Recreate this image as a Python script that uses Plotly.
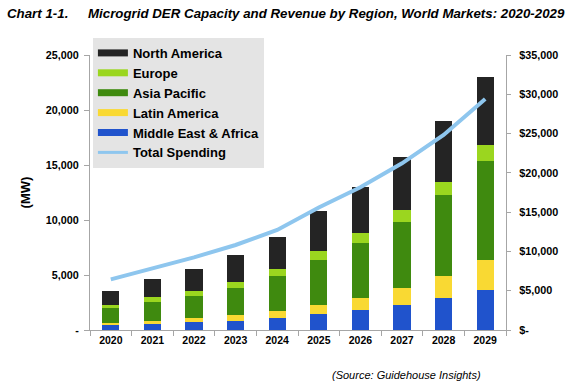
import plotly.graph_objects as go

years = ["2020", "2021", "2022", "2023", "2024", "2025", "2026", "2027", "2028", "2029"]
middle_east_africa = [450, 545, 730, 850, 1090, 1425, 1820, 2300, 2880, 3640]
latin_america = [220, 305, 330, 480, 640, 845, 1120, 1520, 2000, 2690]
asia_pacific = [1360, 1700, 2060, 2520, 3150, 4090, 4970, 6000, 7390, 9070]
europe = [270, 430, 455, 545, 635, 820, 880, 1060, 1180, 1390]
north_america = [1220, 1630, 1940, 2400, 2910, 3610, 4180, 4820, 5520, 6210]
total_spending = [6450, 7850, 9250, 10820, 12730, 15600, 18160, 21210, 24820, 29400]

left_tickvals = [0, 5000, 10000, 15000, 20000, 25000]
left_ticktext = ["-", "5,000", "10,000", "15,000", "20,000", "25,000"]
right_tickvals = [0, 5000, 10000, 15000, 20000, 25000, 30000, 35000]
right_ticktext = ["$-", "$5,000", "$10,000", "$15,000", "$20,000", "$25,000", "$30,000", "$35,000"]

FONT = "Liberation Sans, Arial, sans-serif"
colors = {
    "North America": "#242424",
    "Europe": "#9bd61f",
    "Asia Pacific": "#3f8a0f",
    "Latin America": "#f9d933",
    "Middle East & Africa": "#2053cc",
    "Total Spending": "#8ec6ee",
}

fig = go.Figure()
stack = [
    ("Middle East & Africa", middle_east_africa),
    ("Latin America", latin_america),
    ("Asia Pacific", asia_pacific),
    ("Europe", europe),
    ("North America", north_america),
]
for name, vals in stack:
    fig.add_trace(go.Bar(x=years, y=vals, name=name, marker=dict(color=colors[name], line=dict(width=0)),
                         showlegend=False, yaxis="y"))

fig.add_trace(go.Scatter(x=years, y=total_spending, name="Total Spending", mode="lines",
                         line=dict(color=colors["Total Spending"], width=4), yaxis="y2",
                         showlegend=False))

legend_order = ["North America", "Europe", "Asia Pacific", "Latin America", "Middle East & Africa", "Total Spending"]
for i, name in enumerate(legend_order):
    w = 3 if name == "Total Spending" else 7
    fig.add_trace(go.Scatter(x=[None], y=[None], mode="lines", name=name,
                             line=dict(color=colors[name], width=w), legendrank=i + 1,
                             showlegend=True, hoverinfo="skip"))

fig.update_layout(
    width=574, height=392,
    margin=dict(l=90, r=68, t=55, b=62),
    paper_bgcolor="white", plot_bgcolor="white",
    barmode="stack", bargap=0.59,
    font=dict(family=FONT, color="#000000"),
    xaxis=dict(type="category", showline=True, linecolor="#a6a6a6", linewidth=1,
               ticks="outside", tickson="boundaries", ticklen=5, tickcolor="#a6a6a6",
               tickfont=dict(size=10.5, weight="bold", family=FONT), showgrid=False),
    yaxis=dict(range=[0, 25000], tickvals=left_tickvals, ticktext=left_ticktext,
               showline=True, linecolor="#a6a6a6", linewidth=1, ticks="outside", ticklen=5,
               tickcolor="#a6a6a6", showgrid=False, zeroline=False,
               tickfont=dict(size=10.8, weight="bold", family=FONT), ticklabelstandoff=3,
               title=dict(text="(MW)", font=dict(size=13, weight="bold", family=FONT), standoff=12)),
    yaxis2=dict(range=[0, 35000], tickvals=right_tickvals, ticktext=right_ticktext,
                overlaying="y", side="right", showline=True, linecolor="#a6a6a6", linewidth=1,
                ticks="outside", ticklen=4, tickcolor="#a6a6a6", showgrid=False, zeroline=False,
                tickfont=dict(size=10.8, weight="bold", family=FONT), ticklabelstandoff=6),
    legend=dict(x=0.007, y=1.062, xanchor="left", yanchor="top", bgcolor="#e4e4e4",
                font=dict(size=13, weight="bold", family=FONT), traceorder="normal",
                itemwidth=30, tracegroupgap=0),
    annotations=[
        dict(text="<b><i>Chart 1-1.</i></b>", x=5, y=14, xref="paper", yref="paper",
             showarrow=False, xanchor="left", yanchor="middle",
             font=dict(size=13.3, family=FONT)),
        dict(text="<b><i>Microgrid DER Capacity and Revenue by Region, World Markets: 2020-2029</i></b>",
             x=86, y=14, xref="paper", yref="paper", showarrow=False, xanchor="left", yanchor="middle",
             font=dict(size=13.3, family=FONT)),
        dict(text="<i>(Source: Guidehouse Insights)</i>", x=483, y=375, xref="paper", yref="paper",
             showarrow=False, xanchor="right", yanchor="middle", font=dict(size=11, family=FONT)),
    ],
)

# annotation positions given in page pixels -> paper coordinates (plot area spans 90..506 x 55..330)
pw, ph = 416, 275
for a in fig.layout.annotations:
    a.x = (a.x - 90) / pw
    a.y = 1 - (a.y - 55) / ph

# remove the default 8px body margin so the figure fills the window exactly
fig.write_html("out.html", config={"displayModeBar": False},
               post_script="document.body.style.margin='0';")
